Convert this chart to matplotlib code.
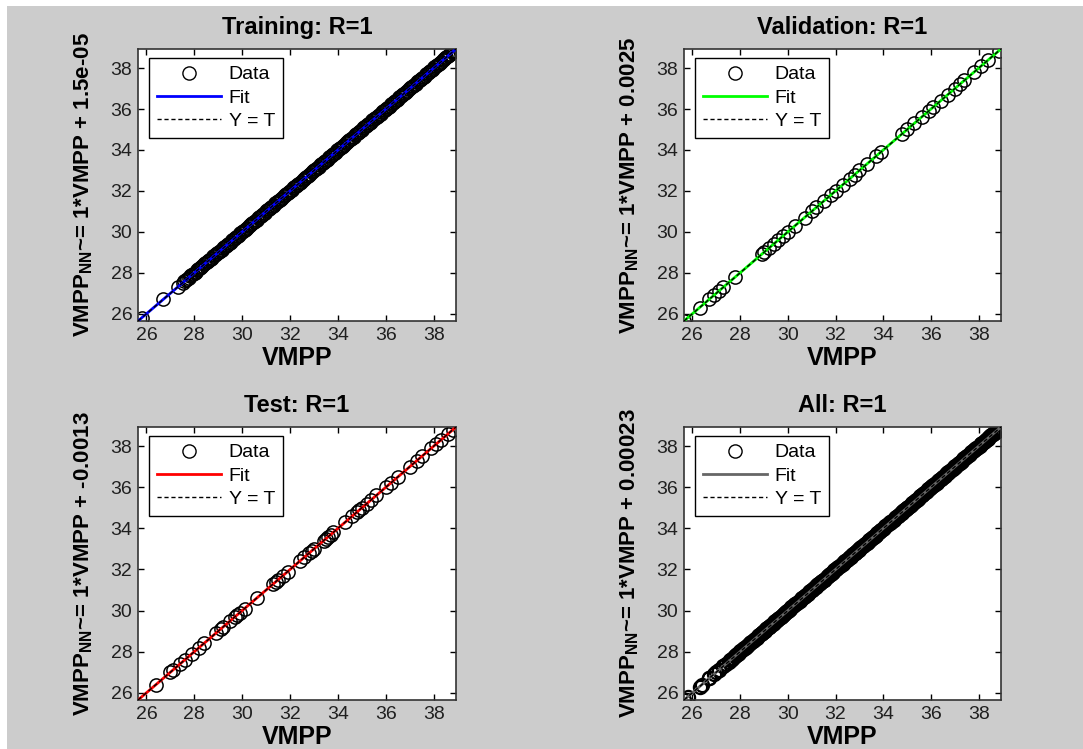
import matplotlib
matplotlib.use("Agg")
import matplotlib.pyplot as plt
from matplotlib.lines import Line2D
from matplotlib.patches import Rectangle

plt.rcParams['font.family'] = ['Liberation Sans', 'DejaVu Sans']
plt.rcParams['mathtext.fontset'] = 'custom'
plt.rcParams['mathtext.rm'] = 'Liberation Sans'
plt.rcParams['mathtext.bf'] = 'Liberation Sans:bold'

# targets (VMPP) per data split; the network output equals the target (R=1)
t_train = [25.8, 26.7, 27.3,
           27.52, 27.58, 27.64, 27.71, 27.77, 27.83, 27.88, 27.94,
           28.01, 28.06, 28.12, 28.17, 28.23, 28.29, 28.34, 28.41, 28.46, 28.52,
           28.57, 28.63, 28.69, 28.74, 28.8, 28.86, 28.91, 28.97,
           29.03, 29.08, 29.14, 29.2, 29.25, 29.31, 29.37, 29.42, 29.48, 29.53,
           29.59, 29.65, 29.7, 29.76, 29.82, 29.87, 29.93, 29.98,
           30.04, 30.1, 30.15, 30.21, 30.27, 30.32, 30.38, 30.43, 30.49, 30.55,
           30.6, 30.66, 30.72, 30.77, 30.83, 30.88, 30.94,
           31.0, 31.05, 31.11, 31.17, 31.22, 31.28, 31.33, 31.39, 31.45, 31.5,
           31.56, 31.62, 31.67, 31.73, 31.78, 31.84, 31.9, 31.95,
           32.01, 32.07, 32.12, 32.18, 32.23, 32.29, 32.35, 32.4, 32.46, 32.52,
           32.57, 32.63, 32.68, 32.74, 32.8, 32.85, 32.91, 32.97,
           33.02, 33.08, 33.13, 33.19, 33.25, 33.3, 33.36, 33.42, 33.47, 33.53,
           33.58, 33.64, 33.7, 33.75, 33.81, 33.87, 33.92, 33.98,
           34.03, 34.09, 34.15, 34.2, 34.26, 34.32, 34.37, 34.43, 34.48, 34.54,
           34.6, 34.65, 34.71, 34.77, 34.82, 34.88, 34.93, 34.99,
           35.05, 35.1, 35.16, 35.22, 35.27, 35.33, 35.38, 35.44, 35.5, 35.55,
           35.61, 35.67, 35.72, 35.78, 35.83, 35.89, 35.95,
           36.0, 36.06, 36.12, 36.17, 36.23, 36.28, 36.34, 36.4, 36.45, 36.51,
           36.57, 36.62, 36.68, 36.73, 36.79, 36.85, 36.9, 36.96,
           37.02, 37.07, 37.13, 37.18, 37.24, 37.3, 37.35, 37.41, 37.47, 37.52,
           37.58, 37.63, 37.69, 37.75, 37.8, 37.86, 37.92, 37.97,
           38.03, 38.08, 38.14, 38.2, 38.25, 38.31, 38.37, 38.42, 38.48, 38.53,
           38.59, 38.65, 38.7, 38.76, 38.82, 38.85]
t_val = [25.65, 26.3, 26.7, 26.9, 27.1, 27.3, 27.8, 28.9, 29.0, 29.2, 29.4, 29.6,
         29.8, 30.0, 30.3, 30.7, 31.0, 31.2, 31.5, 31.8, 32.0, 32.3, 32.6, 32.8,
         33.0, 33.3, 33.7, 33.9, 34.8, 35.0, 35.3, 35.6, 35.9, 36.1, 36.4, 36.7,
         37.0, 37.2, 37.4, 37.8, 38.1, 38.4, 38.85]
t_test = [26.4, 27.0, 27.1, 27.4, 27.6, 27.9, 28.2, 28.4, 28.9, 29.1, 29.2, 29.5,
          29.7, 29.8, 29.9, 30.1, 30.6, 31.3, 31.4, 31.5, 31.7, 31.9, 32.4, 32.6,
          32.8, 32.9, 33.0, 33.4, 33.5, 33.6, 33.7, 33.8, 34.3, 34.6, 34.8, 34.9,
          35.0, 35.2, 35.4, 35.6, 36.0, 36.2, 36.5, 37.0, 37.3, 37.5, 37.9, 38.1,
          38.3, 38.6, 38.8]
y_train = list(t_train)
y_val = list(t_val)
y_test = list(t_test)
t_all = t_train + t_val + t_test
y_all = y_train + y_val + y_test

titles = ['Training: R=1', 'Validation: R=1', 'Test: R=1', 'All: R=1']
slopes = [1, 1, 1, 1]
intercepts = ['1.5e-05', '0.0025', '-0.0013', '0.00023']
fit_colors = ['#0000ff', '#00ff00', '#ff0000', '#666666']
lims = (25.65, 38.93)

W, H = 1083, 749
fig = plt.figure(figsize=(W / 100, H / 100), dpi=100, facecolor='white')
fig.patches.append(Rectangle((7 / W, 0), 1, (H - 6) / H, transform=fig.transFigure,
                             facecolor='#cccccc', edgecolor='none', zorder=-10))

# axes boxes in pixels: left, top, right, bottom
boxes = [(138, 49, 456, 321), (684, 49, 1001, 321),
         (138, 427, 456, 700), (684, 427, 1001, 700)]
sets = [(t_train, y_train), (t_val, y_val), (t_test, y_test), (t_all, y_all)]
edge_widths = [1.1, 1.1, 1.1, 1.6]

for i in range(4):
    l, t, r, b = boxes[i]
    ax = fig.add_axes([l / W, (H - b) / H, (r - l) / W, (b - t) / H])
    tx, ty = sets[i]
    ax.plot(tx, ty, 'o', mfc='none', mec='black', ms=9.5, mew=edge_widths[i], zorder=2)
    ax.plot(lims, [slopes[i] * v + float(intercepts[i]) for v in lims],
            color=fit_colors[i], lw=2, zorder=3)
    ax.plot(lims, lims, color='black', lw=1, ls=(0, (3, 2)), zorder=4)
    ax.set_xlim(lims)
    ax.set_ylim(lims)
    ax.set_xticks(range(26, 39, 2))
    ax.set_yticks(range(26, 39, 2))
    ax.tick_params(direction='in', top=True, right=True, length=4, width=1,
                   labelsize=14, labelcolor='#202020', pad=4)
    for s in ax.spines.values():
        s.set_color('#333333')
        s.set_linewidth(1.2)
    ax.set_title(titles[i], fontsize=17, fontweight='bold', pad=11)
    ax.set_xlabel('VMPP', fontsize=18, fontweight='bold', labelpad=2)
    ax.set_ylabel(r'VMPP$_{\mathbf{NN}}$~= %d*VMPP + %s' % (slopes[i], intercepts[i]),
                  fontsize=16, fontweight='bold')
    ax.yaxis.set_label_coords(-0.135, 0.5)
    handles = [Line2D([], [], marker='o', ls='none', mfc='none', mec='black', ms=9.5),
               Line2D([], [], color=fit_colors[i], lw=2),
               Line2D([], [], color='black', lw=1, ls=(0, (3, 2)))]
    leg = ax.legend(handles, ['Data', 'Fit', 'Y = T'], loc='upper left',
                    bbox_to_anchor=(0.035, 0.967), borderaxespad=0, fontsize=14,
                    fancybox=False, framealpha=1, edgecolor='black',
                    handlelength=3.3, handletextpad=0.4, labelspacing=0.3,
                    borderpad=0.4)
    leg.get_frame().set_linewidth(1.0)

fig.savefig('out.png', dpi=100, facecolor=fig.get_facecolor())
